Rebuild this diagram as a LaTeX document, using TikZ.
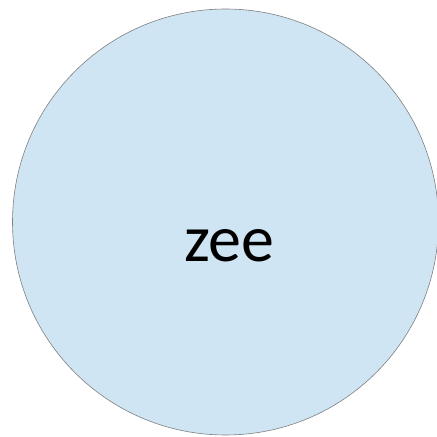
\documentclass[tikz,border=0pt]{standalone}
\usepackage{fontspec}
\setmainfont{Carlito}
\usepackage{xcolor}
\usepackage{tikz}
\usetikzlibrary{positioning}
\definecolor{setblue}{RGB}{207, 229, 244}
\definecolor{rimgray}{RGB}{128, 128, 128}

\begin{document}
\begin{tikzpicture}[
  x=1pt, y=1pt,
  setcircle/.style={
    circle, draw=rimgray, fill=setblue, line width=0.6pt,
    minimum size=426pt, inner sep=0pt
  },
  setlabel/.style={font=\fontsize{66}{72}\selectfont, inner sep=0pt, anchor=base},
]

\useasboundingbox (0, 0) rectangle (437, 437);

% the set
\node[setcircle] (zee) at (225.5, 215) {};

% its name, a bit below the middle
\node[setlabel] (zeeLabel) at ([xshift=4pt, yshift=-40pt]zee.center) {zee};

\end{tikzpicture}
\end{document}
